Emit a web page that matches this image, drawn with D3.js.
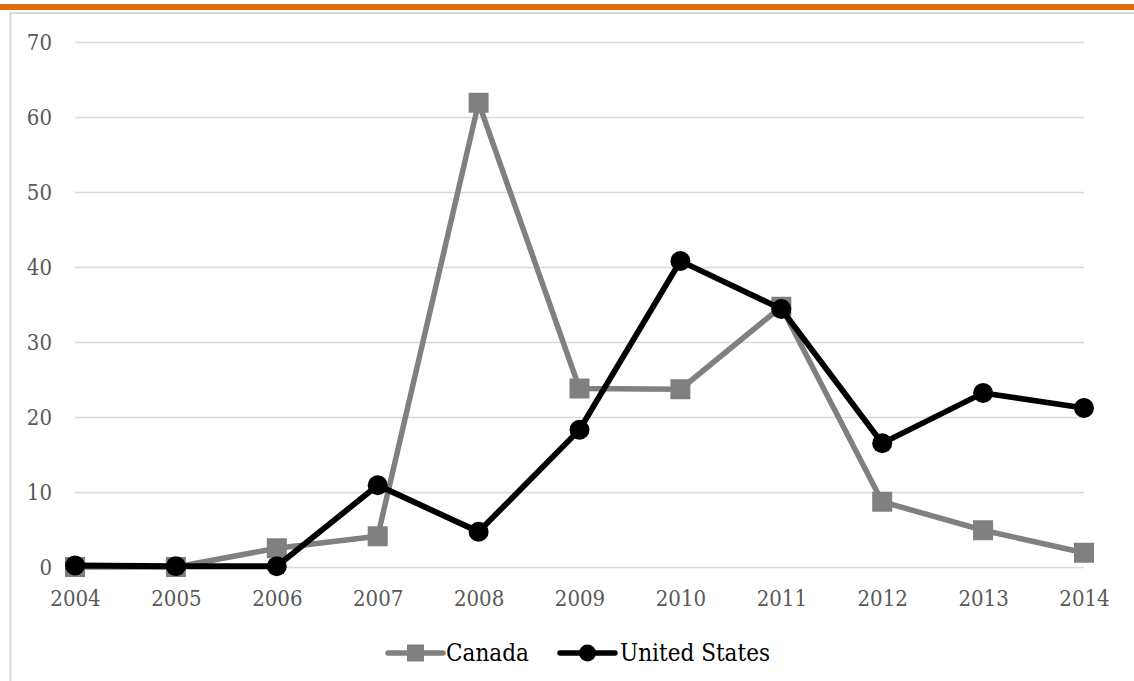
<!DOCTYPE html>
<html lang="en">
<head>
<meta charset="UTF-8" />
<script src="https://d3js.org/d3.v7.min.js"></script>
<style type="text/css">
  body { margin: 0; background: #fff; }
  svg { display: block; }
  text { font-family: "DejaVu Serif Condensed", "DejaVu Serif", serif; font-stretch: condensed; }
</style>
<title>Canada vs United States</title>
</head>
<body>
<script type="text/javascript">
  // Data
  var years = ["2004", "2005", "2006", "2007", "2008", "2009", "2010", "2011", "2012", "2013", "2014"];
  var canada = [0, 0, 2.5, 4.1, 61.9, 23.8, 23.7, 34.7, 8.7, 4.9, 1.9];
  var unitedStates = [0.2, 0.1, 0.1, 10.9, 4.7, 18.3, 40.8, 34.4, 16.5, 23.2, 21.2];
  var yTicks = [0, 10, 20, 30, 40, 50, 60, 70];
  var seriesNames = ["Canada", "United States"];

  var W = 1134, H = 681;
  var margin = {top: 42, left: 75, right: 50, bottom: 114};

  var svg = d3.select("body").append("svg")
      .attr("width", W)
      .attr("height", H);

  // frame bits: orange band at top, light border of the chart area
  svg.append("rect").attr("x", 0).attr("y", 4).attr("width", W).attr("height", 6).attr("fill", "#e36c0a");
  svg.append("line").attr("x1", 10).attr("x2", W).attr("y1", 13).attr("y2", 13)
     .attr("stroke", "#d9d9d9").attr("stroke-width", 2);
  svg.append("line").attr("x1", 10.5).attr("x2", 10.5).attr("y1", 12).attr("y2", H)
     .attr("stroke", "#d9d9d9").attr("stroke-width", 2);

  var xScale = d3.scalePoint()
      .domain(years)
      .range([margin.left, W - margin.right]);

  var yScale = d3.scaleLinear()
      .domain([0, 70])
      .range([H - margin.bottom, margin.top]);

  // grid lines
  svg.append("g")
     .attr("class", "grid")
     .attr("transform", "translate(" + margin.left + ",0)")
     .call(d3.axisLeft(yScale).tickValues(yTicks).tickSize(-(W - margin.right - margin.left)).tickFormat(""))
     .call(function(g) { g.select(".domain").remove(); })
     .selectAll("line")
     .attr("stroke", "#d9d9d9")
     .attr("stroke-width", 1.5);

  // y axis labels
  svg.append("g")
     .attr("class", "y_axis")
     .attr("transform", "translate(" + margin.left + ",0)")
     .call(d3.axisLeft(yScale).tickValues(yTicks).tickSize(0).tickPadding(23))
     .call(function(g) { g.select(".domain").remove(); })
     .selectAll("text")
     .attr("font-size", "22px")
     .attr("fill", "#595959");

  // x axis labels
  svg.append("g")
     .attr("class", "x_axis")
     .attr("transform", "translate(0," + yScale(0) + ")")
     .call(d3.axisBottom(xScale).tickSize(0).tickPadding(23))
     .call(function(g) { g.select(".domain").remove(); })
     .selectAll("text")
     .attr("font-size", "22px")
     .attr("fill", "#595959");

  svg.selectAll(".y_axis, .x_axis").attr("font-family", null).attr("font-size", null);

  var line = d3.line()
      .x(function(d, i) { return xScale(years[i]); })
      .y(function(d) { return yScale(d); });

  // Canada
  svg.append("path")
     .datum(canada)
     .attr("d", line)
     .attr("fill", "none")
     .attr("stroke", "#808080")
     .attr("stroke-width", 5.5)
     .attr("stroke-linejoin", "round");

  svg.selectAll(".sq")
     .data(canada)
     .enter()
     .append("rect")
     .attr("class", "sq")
     .attr("x", function(d, i) { return xScale(years[i]) - 10; })
     .attr("y", function(d) { return yScale(d) - 10; })
     .attr("width", 20)
     .attr("height", 20)
     .attr("fill", "#808080");

  // United States
  svg.append("path")
     .datum(unitedStates)
     .attr("d", line)
     .attr("fill", "none")
     .attr("stroke", "#000")
     .attr("stroke-width", 5.8)
     .attr("stroke-linejoin", "round");

  svg.selectAll(".dot")
     .data(unitedStates)
     .enter()
     .append("circle")
     .attr("class", "dot")
     .attr("cx", function(d, i) { return xScale(years[i]); })
     .attr("cy", function(d) { return yScale(d); })
     .attr("r", 10)
     .attr("fill", "#000");

  // legend
  var legend = svg.append("g").attr("class", "legend");
  var legendY = 653;

  var lg1 = legend.append("g").attr("transform", "translate(388," + legendY + ")");
  lg1.append("line").attr("x1", 0).attr("x2", 55).attr("y1", 0).attr("y2", 0)
     .attr("stroke", "#808080").attr("stroke-width", 5.5).attr("stroke-linecap", "round");
  lg1.append("rect").attr("x", 19).attr("y", -8.5).attr("width", 17).attr("height", 17).attr("fill", "#808080");
  lg1.append("text").attr("x", 58).attr("y", 8).attr("font-size", "24px").attr("fill", "#000").text(seriesNames[0]);

  var lg2 = legend.append("g").attr("transform", "translate(560," + legendY + ")");
  lg2.append("line").attr("x1", 0).attr("x2", 55).attr("y1", 0).attr("y2", 0)
     .attr("stroke", "#000").attr("stroke-width", 5.5).attr("stroke-linecap", "round");
  lg2.append("circle").attr("cx", 27.5).attr("cy", 0).attr("r", 8.5).attr("fill", "#000");
  lg2.append("text").attr("x", 60).attr("y", 8).attr("font-size", "24px").attr("fill", "#000").text(seriesNames[1]);
</script>
</body>
</html>
